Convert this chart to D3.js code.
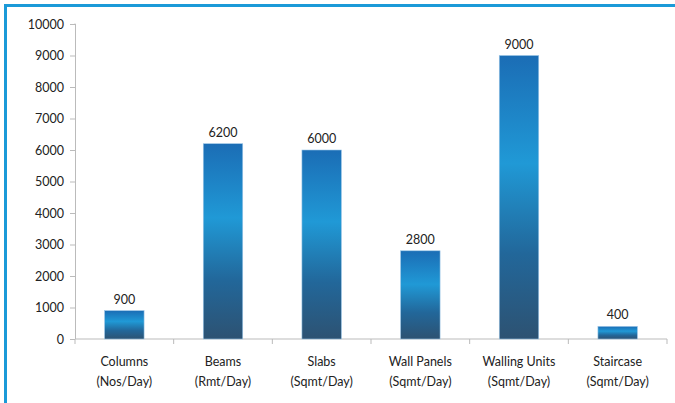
<!DOCTYPE html>
<html>
<head>
<meta charset="utf-8">
<script src="https://cdn.jsdelivr.net/npm/d3@7"></script>
<style>
  body { margin: 0; background: #fff; }
  text { font-family: Lato, "Open Sans", sans-serif; fill: #222; }
</style>
</head>
<body>
<svg width="675" height="403"></svg>
<script>
const categories = ["Columns", "Beams", "Slabs", "Wall Panels", "Walling Units", "Staircase"];
const units = ["(Nos/Day)", "(Rmt/Day)", "(Sqmt/Day)", "(Sqmt/Day)", "(Sqmt/Day)", "(Sqmt/Day)"];
const values = [900, 6200, 6000, 2800, 9000, 400];
const yTicks = [0, 1000, 2000, 3000, 4000, 5000, 6000, 7000, 8000, 9000, 10000];

const svg = d3.select("svg");
const plotLeft = 75, plotRight = 667, plotTop = 24, plotBottom = 339;

// frame (left + top edge)
svg.append("path")
    .attr("d", "M5.5,403 V5.5 H675")
    .attr("fill", "none")
    .attr("stroke", "#1b9ad8")
    .attr("stroke-width", 3);

const defs = svg.append("defs");
const grad = defs.append("linearGradient")
    .attr("id", "barGrad")
    .attr("x1", 0).attr("y1", 0).attr("x2", 0).attr("y2", 1);
grad.append("stop").attr("offset", "0%").attr("stop-color", "#1b6db5");
grad.append("stop").attr("offset", "38%").attr("stop-color", "#2099d6");
grad.append("stop").attr("offset", "70%").attr("stop-color", "#22679a");
grad.append("stop").attr("offset", "100%").attr("stop-color", "#2d5272");

const x = d3.scaleBand().domain(categories).range([plotLeft, plotRight]).paddingInner(0.6).paddingOuter(0.3);
const xEdge = d3.scaleBand().domain(categories).range([plotLeft, plotRight]);
const y = d3.scaleLinear().domain([0, 10000]).range([plotBottom, plotTop]);

// y axis
const yAxis = svg.append("g")
    .attr("transform", `translate(${plotLeft},0)`)
    .call(d3.axisLeft(y).tickValues(yTicks).tickSize(5).tickPadding(6).tickFormat(d3.format("d")));
yAxis.select(".domain").attr("stroke", "#bbb").attr("d", `M-0.5,${plotTop}H0.5V${plotBottom}`);
yAxis.selectAll(".tick line").attr("stroke", "#bbb");
yAxis.selectAll(".tick text").attr("font-size", 12.5).style("font-family", "Lato, sans-serif").attr("fill", "#222");

// x axis
const xg = svg.append("g").attr("transform", `translate(0,${plotBottom})`);
xg.append("line").attr("x1", plotLeft).attr("x2", plotRight).attr("stroke", "#bbb");
xg.selectAll(".xt")
    .data(categories.concat(["end"]))
    .enter().append("line")
    .attr("x1", (d, i) => i < categories.length ? xEdge(d) : plotRight)
    .attr("x2", (d, i) => i < categories.length ? xEdge(d) : plotRight)
    .attr("y1", 0).attr("y2", 5)
    .attr("stroke", "#bbb");

// bars
svg.selectAll(".bar")
    .data(values)
    .enter().append("rect")
    .attr("class", "bar")
    .attr("x", (d, i) => x(categories[i]))
    .attr("width", x.bandwidth())
    .attr("y", d => y(d))
    .attr("height", d => plotBottom - y(d))
    .attr("fill", "url(#barGrad)")
    .attr("stroke", "#9cc6e6")
    .attr("stroke-width", 0.6);

// value labels
svg.selectAll(".val")
    .data(values)
    .enter().append("text")
    .attr("x", (d, i) => x(categories[i]) + x.bandwidth() / 2)
    .attr("y", d => y(d) - 7)
    .attr("text-anchor", "middle")
    .attr("font-size", 12.5)
    .text(d => d);

// category labels
const cl = svg.selectAll(".cat")
    .data(categories)
    .enter().append("text")
    .attr("text-anchor", "middle")
    .attr("font-size", 12.5);
cl.append("tspan")
    .attr("x", d => x(d) + x.bandwidth() / 2)
    .attr("y", 366)
    .text(d => d);
cl.append("tspan")
    .attr("x", d => x(d) + x.bandwidth() / 2)
    .attr("y", 386)
    .text((d, i) => units[i]);
</script>
</body>
</html>
